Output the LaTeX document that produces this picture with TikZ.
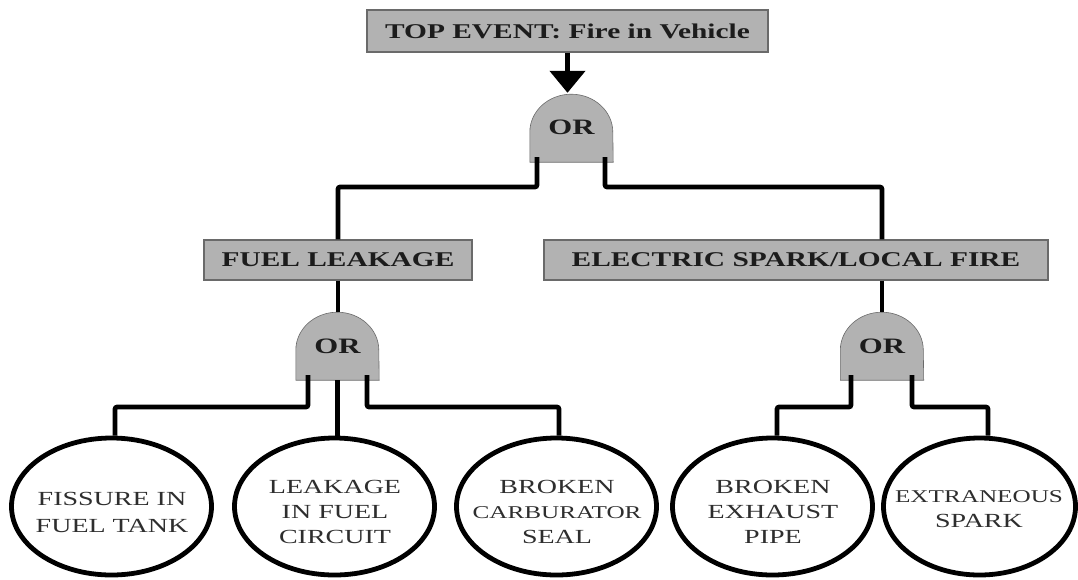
\documentclass[tikz,border=0pt]{standalone}
\usepackage{fontspec}
\usetikzlibrary{shapes.geometric,arrows.meta,calc,backgrounds}
\newfontfamily\wideserif[FakeStretch=1.4]{Liberation Serif}
\definecolor{boxgray}{HTML}{B2B2B2}
\definecolor{boxline}{HTML}{6A6A6A}
\definecolor{textdark}{HTML}{1C1C1C}
\definecolor{textgray}{HTML}{2E2E2E}
\tikzset{
  evbox/.style={draw=boxline, line width=1.2pt, fill=boxgray, inner sep=0pt,
    font=\wideserif\bfseries\fontsize{21}{25}\selectfont, text=textdark},
  gatenode/.style={minimum width=83pt, minimum height=68pt, inner sep=0pt,
    font=\wideserif\bfseries\fontsize{22}{25}\selectfont, text=textdark},
  gatebody/.style={fill=boxgray, draw=boxline, line width=0.6pt},
  conn/.style={line width=4.6pt, draw=black, rounded corners=2pt},
  basicev/.style={ellipse, draw=black, line width=4.8pt, minimum width=200pt,
    minimum height=137pt, inner sep=0pt},
  evtext/.style={font=\wideserif\fontsize{20}{25}\selectfont, align=center,
    text=textgray, inner sep=0pt}
}
\newcommand\drawgatebody[1]{%
  \draw[gatebody] (#1.south west) -- ++(0,-30)
    arc[start angle=180, end angle=360, x radius=41.5, y radius=38]
    -- (#1.south east) -- cycle;}
\begin{document}
\begin{tikzpicture}[x=1pt,y=-1pt]
\useasboundingbox (0,0) rectangle (1078,579);
\coordinate (bus0) at (0,187);
\coordinate (bus1) at (0,407);

% events
\node[evbox, minimum width=401pt, minimum height=42pt] (top) at (567.5,31) {TOP EVENT: Fire in Vehicle};
\node[evbox, minimum width=268pt, minimum height=40pt] (fuel) at (338,260) {FUEL LEAKAGE};
\node[evbox, minimum width=504pt, minimum height=40pt] (elec) at (796,260) {ELECTRIC SPARK/LOCAL FIRE};

% gates
\node[gatenode, minimum height=69pt] (g0) at (571.5,127.5) {OR};
\node[gatenode] (g1) at (337.5,346) {OR};
\node[gatenode] (g2) at (882,346) {OR};

% basic events
\node[basicev] (e1) at (111.5,506.5) {};
\node[basicev] (e2) at (334.5,506.5) {};
\node[basicev] (e3) at (556.5,506.5) {};
\node[basicev] (e4) at (772.5,506.5) {};
\node[basicev, minimum width=192pt] (e5) at (979.5,506.5) {};

\node[evtext] (t1) at (112,512) {FISSURE IN\\[2pt]FUEL TANK};
\node[evtext] (t2) at (335,512) {LEAKAGE\\IN FUEL\\CIRCUIT};
\node[evtext] (t3) at (557,512) {BROKEN\\{\fontsize{18}{25}\selectfont CARBURATOR}\\SEAL};
\node[evtext] (t4) at (773,512) {BROKEN\\EXHAUST\\PIPE};
\node[evtext] (t5) at (979,509) {{\fontsize{18}{25}\selectfont EXTRANEOUS}\\SPARK};

\begin{scope}[on background layer]
  \fill[white] (0,0) rectangle (1078,579);
  \drawgatebody{g0}
  \drawgatebody{g1}
  \drawgatebody{g2}
\end{scope}

% connectors
\draw[conn, rounded corners=0pt, -{Triangle[width=35pt,length=22pt]}] (top.south) -- (top.south |- g0.north);
\draw[conn] ($(g0.south)+(-34.5,-5)$) |- (fuel.north |- bus0) -- (fuel.north);
\draw[conn] ($(g0.south)+(33.5,-5)$) |- (g2.north |- bus0) -- (g2.north |- elec.north);
\draw[conn] (fuel.south) -- (fuel.south |- g1.north);
\draw[conn] (g2.north |- elec.south) -- (g2.north);

\draw[conn] ($(g1.south)+(-29.5,-5)$) |- ($(e1.north |- bus1)+(3.5,0)$) -- ($(e1.north)+(3.5,0)$);
\draw[conn] (g1.south) -- (g1.south |- e2.north);
\draw[conn] ($(g1.south)+(29.5,-5)$) |- ($(e3.north |- bus1)+(2.5,0)$) -- ($(e3.north)+(2.5,0)$);
\draw[conn] ($(g2.south)+(-31,-5)$) |- ($(e4.north |- bus1)+(4.5,0)$) -- ($(e4.north)+(4.5,0)$);
\draw[conn] ($(g2.south)+(30,-5)$) |- ($(e5.north |- bus1)+(8.5,0)$) -- ($(e5.north)+(8.5,0)$);
\end{tikzpicture}
\end{document}
